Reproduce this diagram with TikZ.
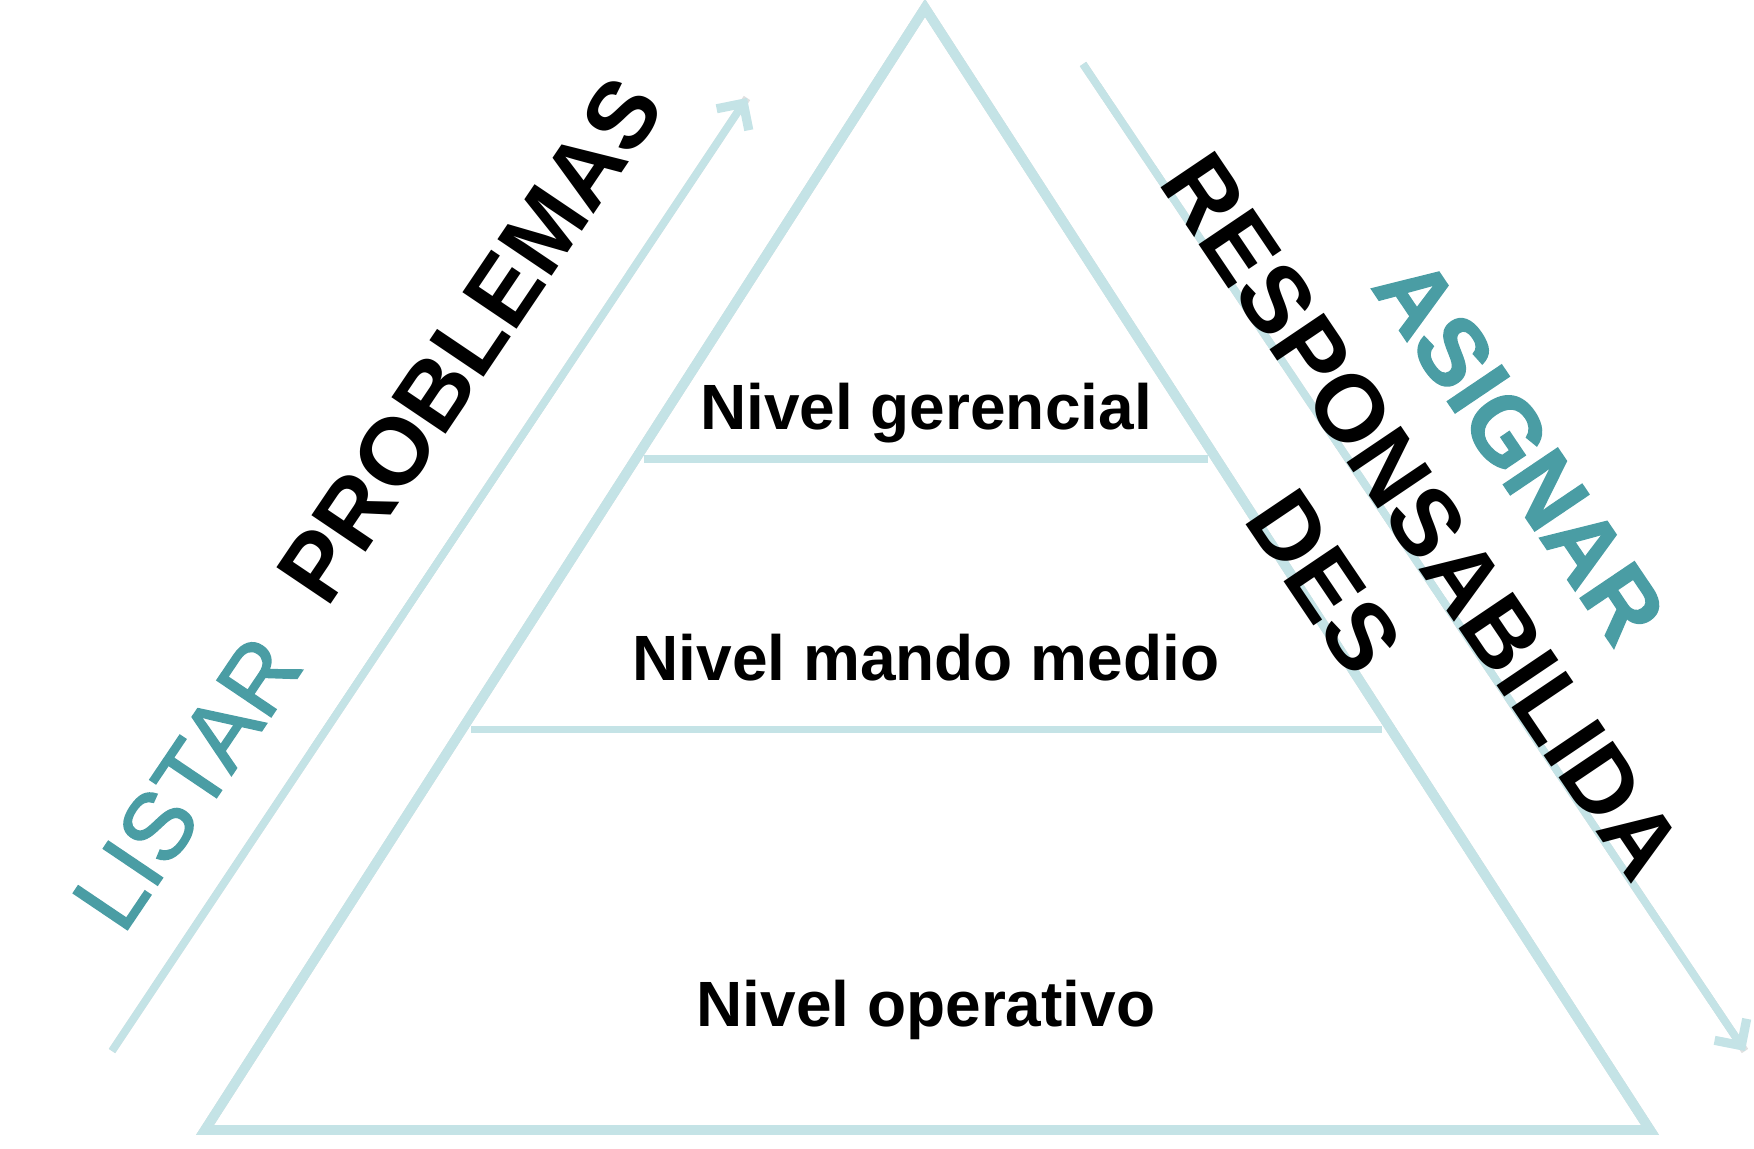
\documentclass[tikz,border=0pt]{standalone}
\usepackage{fontspec}
\setmainfont{Liberation Sans}
\newfontfamily\tealfont[FakeBold=1.6]{Liberation Sans}
\usetikzlibrary{arrows.meta,calc}
\definecolor{edgeblue}{HTML}{C4E3E6}
\definecolor{tealtext}{HTML}{4A9DA4}

\begin{document}
\begin{tikzpicture}[x=0.01cm,y=-0.01cm,
  pyr/.style={draw=edgeblue,line width=2.8pt,line join=miter},
  level/.style={draw=edgeblue,line width=2.2pt,shorten <=2.5pt,shorten >=2.5pt},
  flow/.style={draw=edgeblue,line width=2.2pt,-{Straight Barb[length=5.5pt,width=11pt,line width=2.6pt]}},
  shade/.style={draw=black,opacity=0.12,shift={(3,5)}},
  lvltext/.style={font=\bfseries\fontsize{18.2}{22}\selectfont,inner sep=0pt,anchor=base},
  sidebold/.style={font=\bfseries\fontsize{27}{33.5}\selectfont,inner sep=0pt,align=center},
  sideteal/.style={font=\tealfont\fontsize{27}{33.5}\selectfont,text=tealtext,inner sep=0pt}]
\useasboundingbox (0,0) rectangle (1754,1149);
% pyramid corners and level cuts
\coordinate (top) at (925,8);
\coordinate (bl) at (205,1130);
\coordinate (br) at (1650,1130);
\coordinate (g1) at ($(top)!0.402!(bl)$);
\coordinate (g2) at ($(top)!0.402!(br)$);
\coordinate (m1) at ($(top)!0.643!(bl)$);
\coordinate (m2) at ($(top)!0.643!(br)$);
% arrow ends
\coordinate (la0) at (112,1051);
\coordinate (la1) at (747,98);
\coordinate (ra0) at (1083,64);
\coordinate (ra1) at (1745,1051);
% shadows
\draw[shade,line width=2.8pt] (top) -- (bl) -- (br) -- cycle;
\draw[shade,line width=2.2pt,shorten <=2.5pt,shorten >=2.5pt] (g1) -- (g2);
\draw[shade,line width=2.2pt,shorten <=2.5pt,shorten >=2.5pt] (m1) -- (m2);
\draw[shade,line width=2.2pt] (la0) -- (la1) (ra0) -- (ra1);
% pyramid
\draw[pyr] (top) -- (bl) -- (br) -- cycle;
\draw[level] (g1) -- (g2);
\draw[level] (m1) -- (m2);
\draw[flow] (la0) -- (la1);
\draw[flow] (ra0) -- (ra1);
% labels
\node[lvltext] (gerencial) at (926,430) {Nivel gerencial};
\node[lvltext] (mando) at (926,680) {Nivel mando medio};
\node[lvltext] (operativo) at (926,1026) {Nivel operativo};
\node[sideteal,rotate=56] (listar) at (187,783) {LISTAR};
\node[sidebold,rotate=56] (problemas) at (470,340) {PROBLEMAS};
\node[sidebold,rotate=-56] (asignar) at (1422,516) {{\tealfont\color{tealtext}ASIGNAR}\\RESPONSABILIDA\\DES};
\end{tikzpicture}
\end{document}
